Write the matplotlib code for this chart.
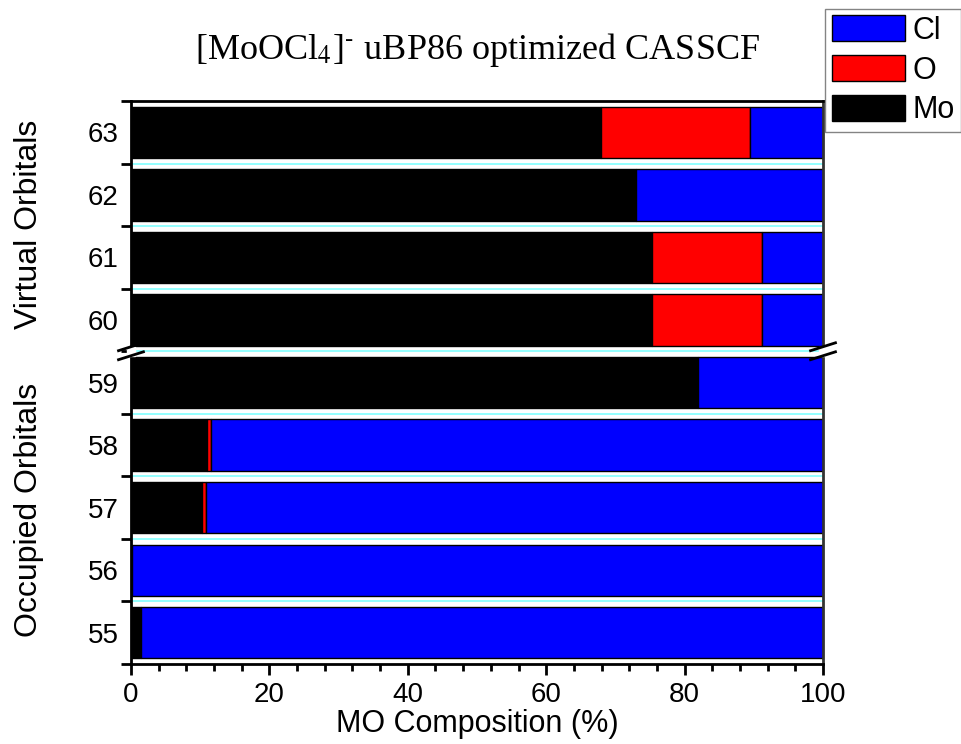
import matplotlib.pyplot as plt
from matplotlib.ticker import MultipleLocator, FixedLocator
from matplotlib.patches import Patch

# MO composition (%) per orbital, listed bottom to top
orbitals = ["55", "56", "57", "58", "59", "60", "61", "62", "63"]
mo = [1.5, 0.2, 10.2, 11.0, 81.9, 75.3, 75.3, 73.0, 67.9]
o = [0.0, 0.0, 0.6, 0.6, 0.0, 15.9, 15.9, 0.0, 21.5]
cl = [98.5, 99.8, 89.2, 88.4, 18.1, 8.8, 8.8, 27.0, 10.6]

plt.rcParams['font.family'] = ['Liberation Sans', 'DejaVu Sans']

fig = plt.figure(figsize=(9.61, 7.44), dpi=100)
ax = fig.add_axes([0.1363, 0.1075, 0.7201, 0.7567])

ypos = list(range(len(orbitals)))
left_o = mo
left_cl = [a + b for a, b in zip(mo, o)]

ax.barh(ypos, mo, height=0.82, color='black', edgecolor='black', lw=1, zorder=2)
ax.barh(ypos, o, left=left_o, height=0.82, color='#ff0000', edgecolor='black', lw=1, zorder=2)
ax.barh(ypos, cl, left=left_cl, height=0.82, color='#0000ff', edgecolor='black', lw=1, zorder=2)

ax.set_xlim(0, 100)
ax.set_ylim(-0.5, len(orbitals) - 0.5)

# cyan lines between the bars
for b in range(len(orbitals) - 1):
    ax.axhline(b + 0.5, color='#80ffff', lw=1.2, zorder=1)

ax.yaxis.set_major_locator(FixedLocator([y - 0.5 for y in range(len(orbitals) + 1)]))
ax.yaxis.set_minor_locator(FixedLocator(ypos))
ax.set_yticklabels([""] * (len(orbitals) + 1))
ax.set_yticklabels(orbitals, minor=True, fontsize=20)
ax.tick_params(axis='y', which='major', direction='out', length=7, width=2, right=False)
ax.tick_params(axis='y', which='minor', length=0, pad=9)

ax.xaxis.set_major_locator(MultipleLocator(20))
ax.xaxis.set_minor_locator(MultipleLocator(4))
ax.tick_params(axis='x', which='major', direction='out', length=8, width=2, labelsize=20, top=False, pad=5)
ax.tick_params(axis='x', which='minor', direction='out', length=5, width=2, top=False)

for s in ax.spines.values():
    s.set_linewidth(2)
ax.spines['right'].set_color('#333333')

ax.set_xlabel("MO Composition (%)", fontsize=22, labelpad=1)

# axis break between 60 and 59
yb = 4.5
yb_ax = (yb + 0.5) / len(orbitals)
for xs in (0, 1):
    ax.add_patch(plt.Rectangle((xs - 0.006, yb_ax - 0.008), 0.012, 0.016,
                               transform=ax.transAxes, color='white', zorder=5, clip_on=False))
    for dy in (-0.008, 0.008):
        ax.plot([xs - 0.018, xs + 0.018], [yb_ax + dy - 0.007, yb_ax + dy + 0.007],
                transform=ax.transAxes, color='black', lw=2, zorder=6, clip_on=False)

fig.text(0.030, 0.698, "Virtual Orbitals", rotation=90, fontsize=23, ha='center', va='center')
fig.text(0.030, 0.315, "Occupied Orbitals", rotation=90, fontsize=23, ha='center', va='center')

fig.text(0.497, 0.933, r"[MoOCl$_4$]$^{\text{-}}$ uBP86 optimized CASSCF", fontsize=26,
         ha='center', va='center', family='Liberation Serif', math_fontfamily='stix')

handles = [Patch(facecolor='#0000ff', edgecolor='black', label='Cl'),
           Patch(facecolor='#ff0000', edgecolor='black', label='O'),
           Patch(facecolor='black', edgecolor='black', label='Mo')]
leg = fig.legend(handles=handles, loc='upper left', bbox_to_anchor=(0.859, 0.988),
                 fontsize=22, frameon=True, fancybox=False, edgecolor='#666666',
                 handlelength=2.4, handleheight=0.95, handletextpad=0.25,
                 labelspacing=0.3, borderpad=0.2, borderaxespad=0)
leg.get_frame().set_linewidth(1)

fig.savefig("out.png", dpi=100)
